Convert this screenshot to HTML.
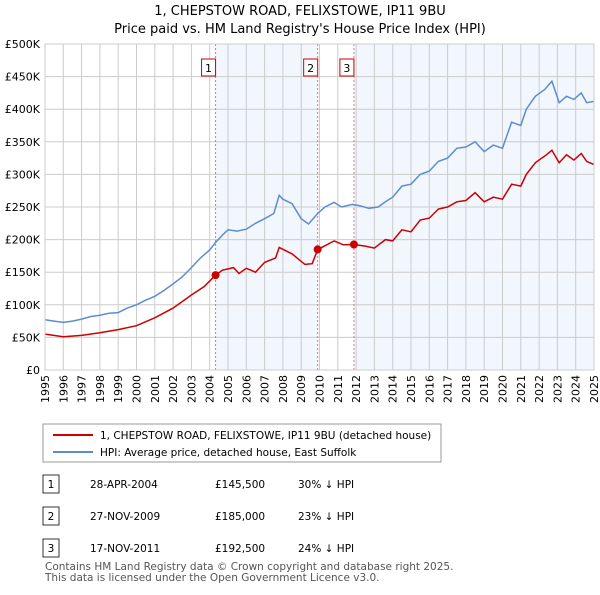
<!DOCTYPE html>
<html><head><meta charset="utf-8"><style>
body{margin:0;background:#fff;font-family:"Liberation Sans",sans-serif;}
svg text{font-family:"DejaVu Sans","Liberation Sans",sans-serif;}
</style></head><body>
<svg width="600" height="590" viewBox="0 0 600 590">
<text x="300" y="15" font-size="13" text-anchor="middle">1, CHEPSTOW ROAD, FELIXSTOWE, IP11 9BU</text>
<text x="300" y="33" font-size="13" text-anchor="middle">Price paid vs. HM Land Registry's House Price Index (HPI)</text>
<g id="plot"></g>
<rect x="43" y="424" width="398" height="38" fill="#fff" stroke="#999"/>
<line x1="53" y1="435" x2="93" y2="435" stroke="#cc0000" stroke-width="2"/>
<text x="100" y="439" font-size="10.5">1, CHEPSTOW ROAD, FELIXSTOWE, IP11 9BU (detached house)</text>
<line x1="53" y1="452" x2="93" y2="452" stroke="#5b8dd1" stroke-width="2"/>
<text x="100" y="456" font-size="10.5">HPI: Average price, detached house, East Suffolk</text>
<g font-size="10.5">
<rect x="43" y="475" width="16" height="18" fill="#fff" stroke="#333"/><text x="51" y="488" text-anchor="middle">1</text>
<text x="90" y="488">28-APR-2004</text><text x="215" y="488">£145,500</text><text x="298" y="488">30% ↓ HPI</text>
<rect x="43" y="507" width="16" height="18" fill="#fff" stroke="#333"/><text x="51" y="520" text-anchor="middle">2</text>
<text x="90" y="520">27-NOV-2009</text><text x="215" y="520">£185,000</text><text x="298" y="520">23% ↓ HPI</text>
<rect x="43" y="539" width="16" height="18" fill="#fff" stroke="#333"/><text x="51" y="552" text-anchor="middle">3</text>
<text x="90" y="552">17-NOV-2011</text><text x="215" y="552">£192,500</text><text x="298" y="552">24% ↓ HPI</text>
</g>
<text x="45" y="570" font-size="10.5" fill="#555">Contains HM Land Registry data © Crown copyright and database right 2025.</text>
<text x="45" y="581" font-size="10.5" fill="#555">This data is licensed under the Open Government Licence v3.0.</text>
</svg>
<script>
const hpiT=[1995,1995.5,1996,1996.5,1997,1997.5,1998,1998.5,1999,1999.5,2000,2000.5,2001,2001.5,2002,2002.5,2003,2003.5,2004,2004.3,2004.7,2005,2005.5,2006,2006.5,2007,2007.5,2007.8,2008,2008.5,2009,2009.4,2009.9,2010.3,2010.8,2011.2,2011.8,2012.2,2012.7,2013.2,2013.6,2014,2014.5,2015,2015.5,2016,2016.5,2017,2017.5,2018,2018.5,2019,2019.5,2020,2020.5,2021,2021.3,2021.8,2022.3,2022.7,2023.1,2023.5,2023.9,2024.3,2024.6,2025];
const hpiV=[77,75,73,75,78,82,84,87,88,95,100,107,113,122,132,143,157,172,184,195,207,215,213,216,225,232,240,268,262,255,232,224,240,250,257,250,254,252,248,250,258,265,282,285,300,305,320,325,340,342,350,335,345,340,380,375,400,420,430,443,410,420,415,425,410,412];
const priceT=[1995,1996,1997,1998,1999,2000,2001,2002,2003,2003.7,2004.32,2004.7,2005.3,2005.6,2006,2006.5,2007,2007.6,2007.8,2008.5,2009.2,2009.6,2009.9,2010.4,2010.8,2011.3,2011.88,2012.5,2013,2013.6,2014,2014.5,2015,2015.5,2016,2016.5,2017,2017.5,2018,2018.5,2019,2019.5,2020,2020.5,2021,2021.3,2021.8,2022.4,2022.7,2023.1,2023.5,2023.9,2024.3,2024.6,2025];
const priceV=[55,51,53,57,62,68,80,95,115,128,145.5,153,157,148,156,150,165,172,188,178,162,163,185,192,198,192,192.5,190,187,200,198,215,212,230,233,247,250,258,260,272,258,265,262,285,282,300,318,330,337,318,330,322,332,320,315];
const saleT=[2004.32,2009.9,2011.88];
const saleV=[145.5,185,192.5];
const saleLabels=["1","2","3"];
const yTicks=[0,50,100,150,200,250,300,350,400,450,500];
const yTickLabels=["£0","£50K","£100K","£150K","£200K","£250K","£300K","£350K","£400K","£450K","£500K"];
const xYears=[1995,1996,1997,1998,1999,2000,2001,2002,2003,2004,2005,2006,2007,2008,2009,2010,2011,2012,2013,2014,2015,2016,2017,2018,2019,2020,2021,2022,2023,2024,2025];
const X0=45,X1=594,Y0=370,Y1=44;
const xs=t=>X0+(t-1995)/30*(X1-X0);
const ys=v=>Y0-v/500*(Y0-Y1);
const NS="http://www.w3.org/2000/svg";
const g=document.getElementById('plot');
function mk(tag,attrs){const e=document.createElementNS(NS,tag);for(const k in attrs)e.setAttribute(k,attrs[k]);g.appendChild(e);return e;}
let r=mk('rect',{x:X0,y:Y1,width:X1-X0,height:Y0-Y1,fill:'#fff'});


const bands=[[saleT[0],saleT[1]],[saleT[2],2025]];
bands.forEach(b=>{const e=mk('rect',{x:xs(b[0]),y:Y1,width:xs(b[1])-xs(b[0]),height:Y0-Y1,fill:'#eef3fc',opacity:0.75});

});
xYears.forEach(y=>{const e=mk('line',{x1:xs(y),x2:xs(y),y1:Y1,y2:Y0,stroke:'#ccc'});


const tx=xs(y)+4,ty=375;
const t=mk('text',{x:tx,y:ty,'font-size':11,'text-anchor':'end',transform:'rotate(-90 '+tx+' '+ty+')'});t.textContent=y;

});
yTicks.forEach((v,i)=>{const e=mk('line',{x1:X0,x2:X1,y1:ys(v),y2:ys(v),stroke:'#ccc'});


const t=mk('text',{x:40,y:ys(v)+4,'font-size':11,'text-anchor':'end'});t.textContent=yTickLabels[i];

});
saleT.forEach((s,i)=>{const e=mk('line',{x1:xs(s),x2:xs(s),y1:Y1,y2:Y0,stroke:'#f07070','stroke-dasharray':'2,2'});


const b=mk('rect',{x:xs(s)-14,y:59,width:14,height:17,fill:'#fff',stroke:'#cc0000'});


const t=mk('text',{x:xs(s)-7,y:72,'font-size':11,'text-anchor':'middle'});t.textContent=saleLabels[i];

});
function line(T,V,c,n){const p=mk('path',{d:T.map((t,i)=>(i?'L':'M')+xs(t).toFixed(1)+','+ys(V[i]).toFixed(1)).join(''),fill:'none',stroke:c,'stroke-width':1.5});

}
line(hpiT,hpiV,'#5b8dd1','hpi-line');
line(priceT,priceV,'#cc0000','price-line');
saleT.forEach((s,i)=>{const c=mk('circle',{cx:xs(s),cy:ys(saleV[i]),r:4,fill:'#cc0000'});

});
const b=mk('rect',{x:X0,y:Y1,width:X1-X0,height:Y0-Y1,fill:'none',stroke:'#ccc'});


</script>
</body></html>
